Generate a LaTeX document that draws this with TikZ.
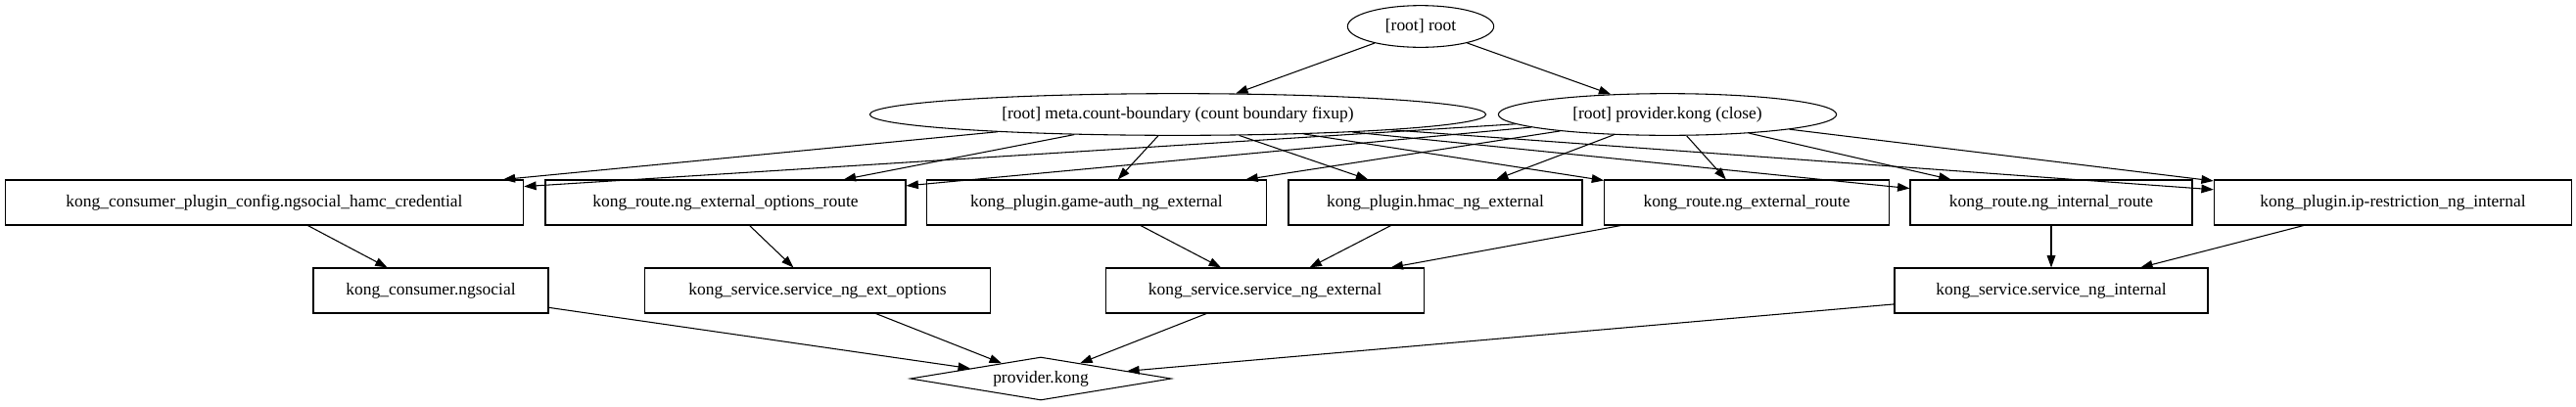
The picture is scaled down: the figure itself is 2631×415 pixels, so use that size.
\documentclass[tikz,border=0pt]{standalone}
\usepackage{fontspec}
\setmainfont{Liberation Serif}
\usetikzlibrary{shapes.geometric,arrows.meta}

\newcommand{\YA}{27}
\newcommand{\YB}{117}
\newcommand{\YC}{207}
\newcommand{\YD}{297}
\newcommand{\YE}{387}

\begin{document}
\begin{tikzpicture}[x=0.75pt,y=-0.75pt,
        every node/.style={font=\fontsize{13.1}{15}\selectfont,line width=0.8pt,inner sep=0pt},
        ell/.style={draw,ellipse,minimum height=32pt},
        res/.style={draw,rectangle,minimum height=34.5pt},
        prov/.style={draw,diamond,aspect=6,minimum width=200pt,minimum height=33pt},
        dep/.style={-{Triangle[length=9.3pt,width=6.5pt]},line width=0.8pt}]
        \useasboundingbox (0,0) rectangle (2631,415);

        % root and meta nodes
        \path (1451,\YA) node[ell,minimum width=112pt] (root) {[root] root};
        \path (1203,\YB) node[ell,minimum width=472pt] (meta) {[root] meta.count-boundary (count boundary fixup)};
        \path (1703,\YB) node[ell,minimum width=259pt] (pclose) {[root] provider.kong (close)};

        % resources
        \path (270,\YC)  node[res,minimum width=397pt] (cons)  {kong\_consumer\_plugin\_config.ngsocial\_hamc\_credential};
        \path (741,\YC)  node[res,minimum width=276pt] (eor)   {kong\_route.ng\_external\_options\_route};
        \path (1120,\YC) node[res,minimum width=260pt] (gauth) {kong\_plugin.game-auth\_ng\_external};
        \path (1466,\YC) node[res,minimum width=225pt] (hmac)  {kong\_plugin.hmac\_ng\_external};
        \path (1784,\YC) node[res,minimum width=218pt] (erte)  {kong\_route.ng\_external\_route};
        \path (2095,\YC) node[res,minimum width=216pt] (irte)  {kong\_route.ng\_internal\_route};
        \path (2444,\YC) node[res,minimum width=274pt] (iprs)  {kong\_plugin.ip-restriction\_ng\_internal};

        \path (440,\YD)  node[res,minimum width=180pt] (ngs) {kong\_consumer.ngsocial};
        \path (835,\YD)  node[res,minimum width=265pt] (seo) {kong\_service.service\_ng\_ext\_options};
        \path (1292,\YD) node[res,minimum width=244pt] (sne) {kong\_service.service\_ng\_external};
        \path (2095,\YD) node[res,minimum width=240pt] (sni) {kong\_service.service\_ng\_internal};

        \path (1063,\YE) node[prov] (kong) {provider.kong};

        % edges
        \draw[dep] (root) -- (meta);
        \draw[dep] (root) -- (pclose);
        \foreach \T in {cons,eor,gauth,hmac,erte,irte,iprs} {
            \draw[dep] (meta) -- (\T);
            \draw[dep] (pclose) -- (\T);
        }
        \draw[dep] (cons) -- (ngs);
        \draw[dep] (eor) -- (seo);
        \foreach \T in {gauth,hmac,erte} {
            \draw[dep] (\T) -- (sne);
        }
        \draw[dep] (irte) -- (sni);
        \draw[dep] (iprs) -- (sni);
        \foreach \T in {ngs,seo,sne,sni} {
            \draw[dep] (\T) -- (kong);
        }

    \end{tikzpicture}
\end{document}
